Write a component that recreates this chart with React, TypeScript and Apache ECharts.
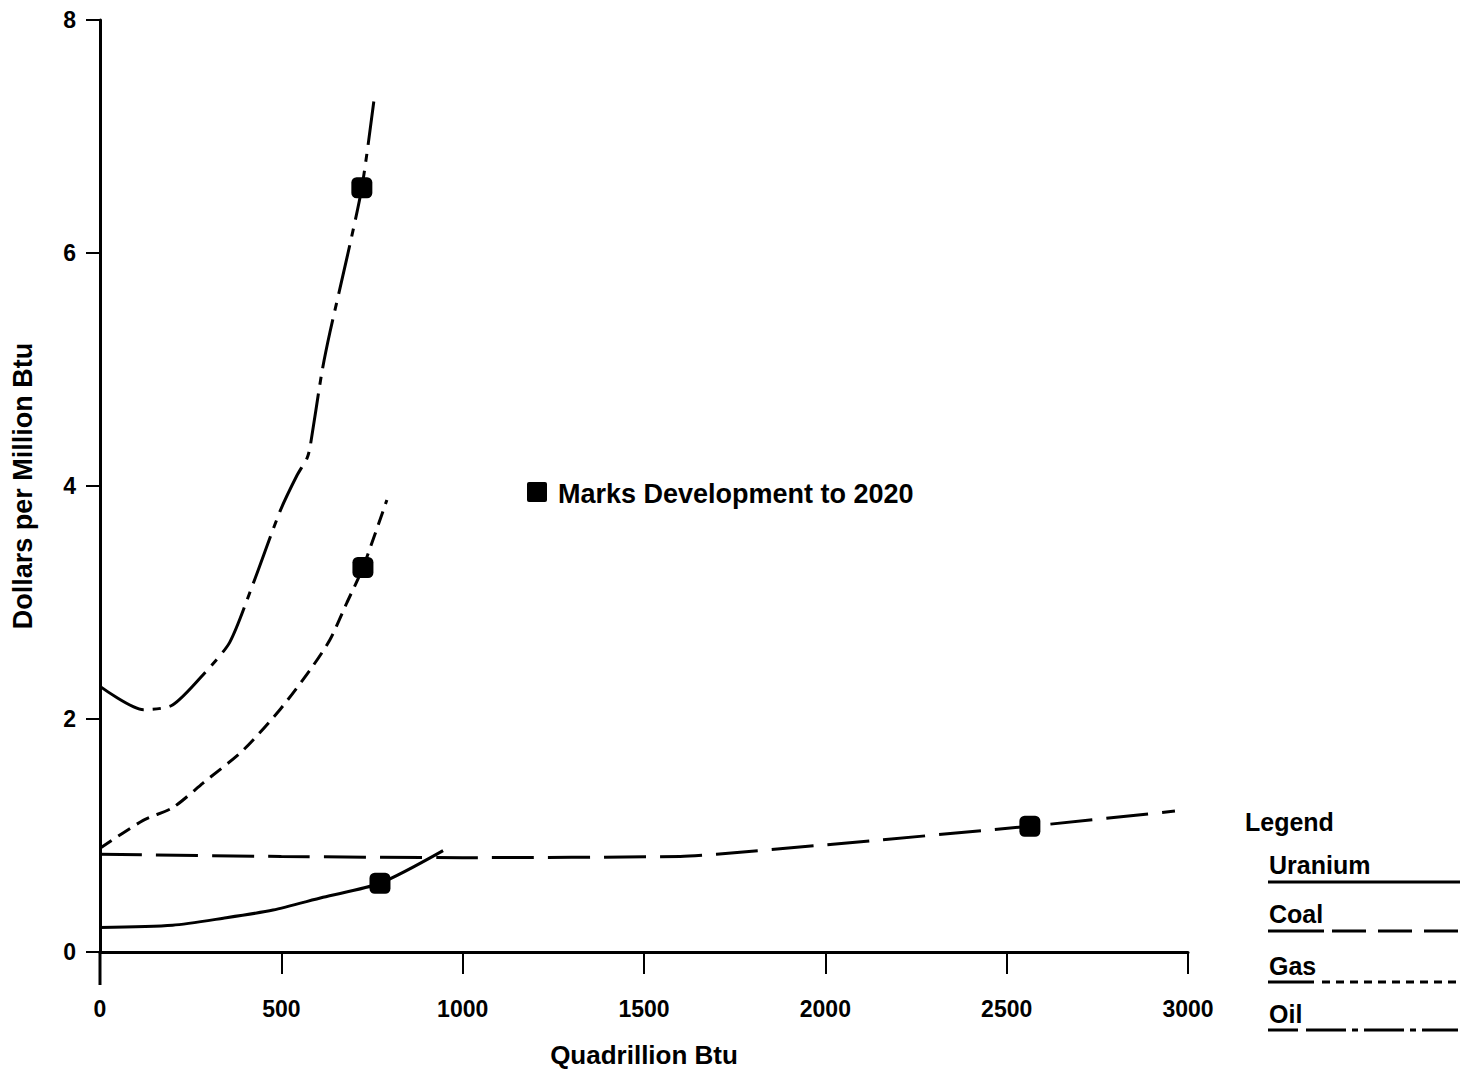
import React, { useEffect, useRef } from "react";
import * as echarts from "echarts";

const oilX = [0, 120, 200, 290, 358, 422, 496, 543, 571, 579, 612, 634, 681, 722, 755];
const oilY = [2.28, 2.08, 2.12, 2.4, 2.66, 3.16, 3.78, 4.09, 4.24, 4.33, 4.98, 5.32, 5.96, 6.56, 7.3];

const gasX = [0, 119, 201, 284, 394, 496, 579, 634, 681, 725, 791];
const gasY = [0.89, 1.13, 1.24, 1.45, 1.73, 2.08, 2.42, 2.68, 3.0, 3.3, 3.88];

const coalX = [0, 500, 1000, 1600, 1700, 2000, 2564, 2964];
const coalY = [0.84, 0.82, 0.81, 0.82, 0.84, 0.92, 1.08, 1.21];

const uraniumX = [0, 200, 340, 477, 615, 772, 946];
const uraniumY = [0.21, 0.23, 0.29, 0.36, 0.47, 0.59, 0.87];

const markerX = [722, 725, 772, 2564];
const markerY = [6.56, 3.3, 0.59, 1.08];

const legendNames = ["Uranium", "Coal", "Gas", "Oil"];
const noteText = "Marks Development to 2020";
const xTitle = "Quadrillion Btu";
const yTitle = "Dollars per Million Btu";

const FONT = "'Liberation Sans', Arial, sans-serif";

const zip = (xs: number[], ys: number[]) => xs.map((x, i) => [x, ys[i]]);

export default function App() {
  const ref = useRef<HTMLDivElement>(null);
  useEffect(() => {
    if (!ref.current) return;
    const chart = echarts.init(ref.current, undefined, { renderer: "svg" });
    const lineSeries = (name: string, data: number[][], dash: any) => ({
      name,
      type: "line",
      data,
      smooth: 0.25,
      showSymbol: false,
      lineStyle: { color: "#000", width: 3, type: dash },
      z: 2,
    });
    const legendDashes: any[] = [null, [34, 12], [8, 6], [40, 6, 6, 6]];
    const legendTextY = [865, 914, 966, 1014];
    const legendLineY = [882, 931, 982, 1030];
    const textWidths = [120, 56, 46, 30];
    const graphic: any[] = [
      {
        type: "rect",
        shape: { x: 527, y: 482, width: 20, height: 20, r: 2 },
        style: { fill: "#000" },
      },
      {
        type: "text",
        x: 558,
        y: 494,
        style: { text: noteText, font: `bold 27px ${FONT}`, fill: "#000", verticalAlign: "middle" },
      },
      {
        type: "text",
        x: 1245,
        y: 822,
        style: { text: "Legend", font: `bold 25px ${FONT}`, fill: "#000", verticalAlign: "middle" },
      },
      {
        type: "line",
        shape: { x1: 100, y1: 952, x2: 100, y2: 985 },
        style: { stroke: "#000", lineWidth: 3 },
      },
    ];
    legendNames.forEach((n, i) => {
      graphic.push({
        type: "text",
        x: 1269,
        y: legendTextY[i],
        style: { text: n, font: `bold 25px ${FONT}`, fill: "#000", verticalAlign: "middle" },
      });
      if (i === 0) {
        graphic.push({
          type: "line",
          shape: { x1: 1268, y1: legendLineY[i], x2: 1460, y2: legendLineY[i] },
          style: { stroke: "#000", lineWidth: 3 },
        });
      } else {
        graphic.push({
          type: "line",
          shape: { x1: 1268, y1: legendLineY[i], x2: 1268 + textWidths[i], y2: legendLineY[i] },
          style: { stroke: "#000", lineWidth: 3 },
        });
        graphic.push({
          type: "line",
          shape: { x1: 1268 + textWidths[i] + 8, y1: legendLineY[i], x2: 1458, y2: legendLineY[i] },
          style: { stroke: "#000", lineWidth: 3, lineDash: legendDashes[i] },
        });
      }
    });

    chart.setOption({
      animation: false,
      backgroundColor: "#fff",
      grid: {
        left: 100,
        top: 20,
        width: 1088,
        height: 932,
        containLabel: false,
        outerBoundsMode: "none",
      },
      xAxis: {
        type: "value",
        min: 0,
        max: 3000,
        interval: 500,
        name: xTitle,
        nameLocation: "middle",
        nameGap: 90,
        nameTextStyle: { color: "#000", fontWeight: "bold", fontSize: 26, fontFamily: FONT },
        axisLine: { show: true, lineStyle: { color: "#000", width: 3 } },
        axisTick: { show: true, length: 22, lineStyle: { color: "#000", width: 2 } },
        axisLabel: {
          color: "#000",
          fontWeight: "bold",
          fontSize: 23,
          fontFamily: FONT,
          margin: 45,
          formatter: (v: number) => String(v),
        },
        splitLine: { show: false },
      },
      yAxis: {
        type: "value",
        min: 0,
        max: 8,
        interval: 2,
        name: yTitle,
        nameLocation: "middle",
        nameGap: 64,
        nameRotate: 90,
        nameTextStyle: { color: "#000", fontWeight: "bold", fontSize: 27, fontFamily: FONT },
        axisLine: { show: true, lineStyle: { color: "#000", width: 3 } },
        axisTick: { show: true, length: 14, lineStyle: { color: "#000", width: 2 } },
        axisLabel: {
          color: "#000",
          fontWeight: "bold",
          fontSize: 23,
          fontFamily: FONT,
          margin: 24,
          formatter: (v: number) => String(v),
        },
        splitLine: { show: false },
      },
      series: [
        lineSeries("Oil", zip(oilX, oilY), [50, 9, 8, 9]),
        lineSeries("Gas", zip(gasX, gasY), [14, 8]),
        lineSeries("Coal", zip(coalX, coalY), [42, 14]),
        lineSeries("Uranium", zip(uraniumX, uraniumY), "solid"),
        {
          name: "Marks",
          type: "scatter",
          data: zip(markerX, markerY),
          symbol: "roundRect",
          symbolSize: 21,
          itemStyle: { color: "#000", opacity: 1 },
          z: 5,
        },
      ],
      graphic,
    });
    return () => chart.dispose();
  }, []);
  return (
    <div
      ref={ref}
      style={{ position: "fixed", left: 0, top: 0, width: 1463, height: 1077, background: "#fff" }}
    />
  );
}
